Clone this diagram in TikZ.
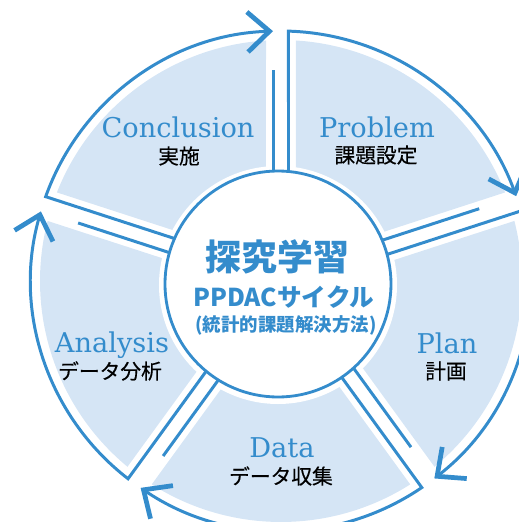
\documentclass[tikz,border=0pt]{standalone}
\usepackage{fontspec}
\newfontfamily\titlefont{DejaVu Serif}
\newfontfamily\jpfont{Noto Sans CJK JP}
\newfontfamily\jpsemi{Noto Sans CJK JP}[FakeBold=0.4]
\usetikzlibrary{arrows.meta}
\definecolor{cycblue}{RGB}{52,140,204}
\definecolor{cycfill}{RGB}{213,229,245}
\tikzset{
  sector/.style={fill=cycfill},
  rimline/.style={draw=cycblue, line width=1.7pt},
  rimarrow/.style={rimline, -{Straight Barb[length=0.44cm,width=0.8cm,line width=2.7pt,sharp]}},
  hubring/.style={draw=cycblue, fill=white, line width=1.6pt},
  steptitle/.style={font=\titlefont\fontsize{15.5}{18}\selectfont, text=cycblue, anchor=base, inner sep=0pt},
  stepsub/.style={font=\jpsemi\fontsize{11.8}{14}\selectfont, inner sep=0pt},
  hubtitle/.style={font=\jpfont\bfseries\fontsize{20.4}{24}\selectfont, text=cycblue, inner sep=0pt},
  hubsub/.style={font=\jpfont\bfseries\fontsize{14}{17}\selectfont, text=cycblue, inner sep=0pt},
  hubnote/.style={font=\jpfont\bfseries\fontsize{10.5}{13}\selectfont, text=cycblue, inner sep=0pt}
}
\begin{document}
\begin{tikzpicture}[x=0.02cm,y=0.02cm]
  \useasboundingbox (-281,-241) rectangle (238,281);
  \clip (-281,-241) rectangle (238,281); % the rim runs off the right and bottom
  % light blue sectors, 72 degrees each
  \foreach \ts in {162,90,18,-54,-126}{
    \pgfmathsetmacro\te{\ts-72}
    \fill[sector] ({\ts-asin(15/100)}:100) -- ({\ts-asin(15/241)}:241)
      arc[start angle={\ts-asin(15/241)}, end angle={\te+asin(15/241)}, radius=241]
      -- ({\te+asin(15/100)}:100) -- cycle;
  }
  % white ring round the hub
  \fill[white] (-3,-4) circle[radius=119];
  % rim with arrow, and the short line at the end of each sector
  \foreach \ts in {162,90,18,-54,-126}{
    \pgfmathsetmacro\te{\ts-72}
    \draw[rimarrow] ({\ts-asin(7.5/100)}:100) -- ({\ts-asin(7.5/250)}:250)
      arc[start angle={\ts-asin(7.5/250)}, end angle={\te+asin(8/250)}, radius=250];
    \draw[rimline] ({\te+asin(7.5/100)}:100) -- ({\te+asin(7.5/211)}:211);
  }
  % hub
  \draw[hubring] (-3,-3) circle[radius=113];
  \node[hubtitle] (inquiry) at (-3.5,24) {探究学習};
  \node[hubsub] (ppdac) at (3,-16) {PPDACサイクル};
  \node[hubnote] (method) at (5,-44) {(統計的課題解決方法)};
  % labels
  \node[steptitle] (conclusion) at (-103,144) {Conclusion};
  \node[stepsub] (conclusionjp) at (-102,125) {実施};
  \node[steptitle] (problem) at (96,144) {Problem};
  \node[stepsub] (problemjp) at (95,126) {課題設定};
  \node[steptitle] (plan) at (166,-72) {Plan};
  \node[stepsub] (planjp) at (165,-90) {計画};
  \node[steptitle] (data) at (1,-176) {Data};
  \node[stepsub] (datajp) at (0,-195) {データ収集};
  \node[steptitle] (analysis) at (-169,-71) {Analysis};
  \node[stepsub] (analysisjp) at (-171,-90) {データ分析};
\end{tikzpicture}
\end{document}
